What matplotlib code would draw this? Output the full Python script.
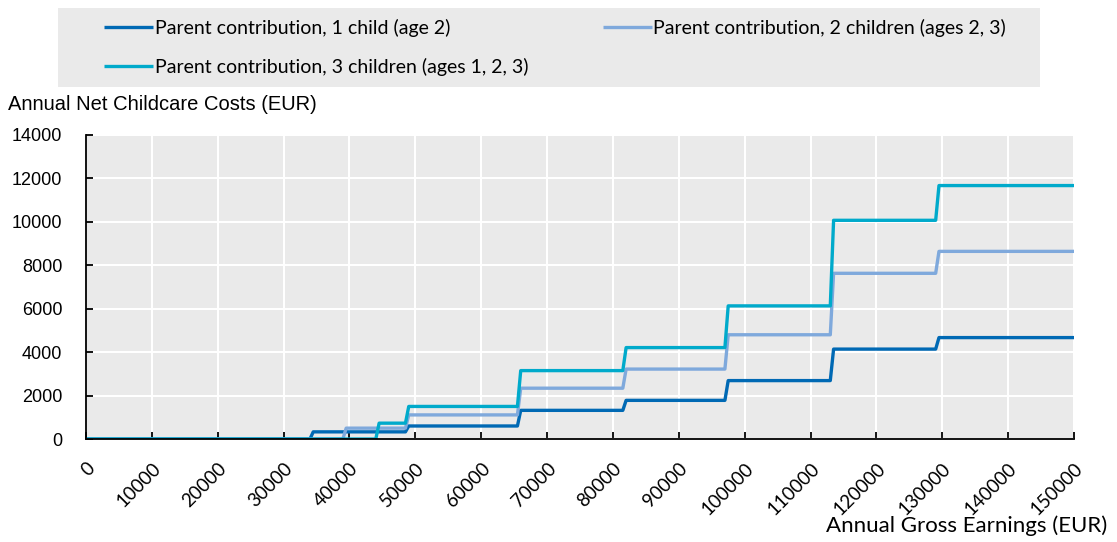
import numpy as np
import matplotlib.pyplot as plt
from matplotlib.patches import Rectangle

# Earnings thresholds (EUR) where the parent contribution steps up, and the levels
breaks_1 = [34200, 49000, 65600, 81600, 97400, 113500, 129500]
levels_1 = [0, 330, 600, 1320, 1780, 2690, 4140, 4670]

breaks_2 = [39500, 49000, 65600, 81600, 97400, 113500, 129500]
levels_2 = [0, 500, 1110, 2340, 3220, 4800, 7630, 8640]

breaks_3 = [44500, 49000, 65600, 81600, 97400, 113500, 129500]
levels_3 = [0, 730, 1500, 3150, 4210, 6130, 10070, 11670]

labels = ["Parent contribution, 1 child (age 2)",
          "Parent contribution, 2 children (ages 2, 3)",
          "Parent contribution, 3 children (ages 1, 2, 3)"]
colors = ["#0069B4", "#7FA9DC", "#00AACB"]

earnings = np.arange(0, 150001, 500)


def contribution(breaks, levels):
    idx = np.searchsorted(breaks, earnings, side="right")
    return np.array(levels)[idx]


fig = plt.figure(figsize=(11.17, 5.42), dpi=100)
ax = fig.add_axes([0.077, 0.19, 0.8845, 0.561])
ax.set_facecolor("#EAEAEA")

series = [(breaks_1, levels_1), (breaks_2, levels_2), (breaks_3, levels_3)]
lines = []
for (b, l), lab, c in zip(series, labels, colors):
    ln, = ax.plot(earnings, contribution(b, l), color=c, lw=2.4, label=lab,
                  solid_capstyle="butt")
    lines.append(ln)

ax.set_xlim(0, 150000)
ax.set_ylim(0, 14000)
ax.set_xticks(np.arange(0, 150001, 10000))
ax.set_yticks(np.arange(0, 14001, 2000))
ax.grid(True, color="white", lw=1.5)
ax.set_axisbelow(True)

for s in ["top", "right"]:
    ax.spines[s].set_visible(False)
ax.spines["left"].set_color("black")
ax.spines["bottom"].set_color("black")
ax.spines["left"].set_linewidth(1.3)
ax.spines["bottom"].set_linewidth(1.3)
ax.tick_params(axis="both", direction="in", length=5, width=1.3, color="black")
ax.tick_params(axis="y", pad=17, labelsize=13)
ax.tick_params(axis="x", pad=15, labelsize=13.5, labelrotation=45)

for t in ax.get_yticklabels():
    t.set_fontfamily("Liberation Sans")
for t in ax.get_xticklabels():
    t.set_fontfamily("Lato")
    t.set_ha("right")
    t.set_va("top")
    t.set_rotation_mode("anchor")

fig.text(0.007, 0.808, "Annual Net Childcare Costs (EUR)",
         fontfamily="Liberation Sans", fontsize=14.5, ha="left", va="center")
fig.text(0.991, 0.03, "Annual Gross Earnings (EUR)",
         fontfamily="Lato", fontsize=16, ha="right", va="center")

# legend box
fig.patches.append(Rectangle((0.0519, 0.8395), 0.8791, 0.1458,
                             transform=fig.transFigure, facecolor="#EAEAEA",
                             edgecolor="none", zorder=0))
order = [0, 2, 1]
fig.legend([lines[i] for i in order], [labels[i] for i in order],
           loc="upper left", bbox_to_anchor=(0.0931, 0.965), ncol=2,
           frameon=False, prop={"family": "Lato", "size": 14},
           handlelength=2.5, handletextpad=0.1, borderpad=0,
           borderaxespad=0, labelspacing=1.06, columnspacing=3.85)

plt.savefig("out.png", dpi=100)
